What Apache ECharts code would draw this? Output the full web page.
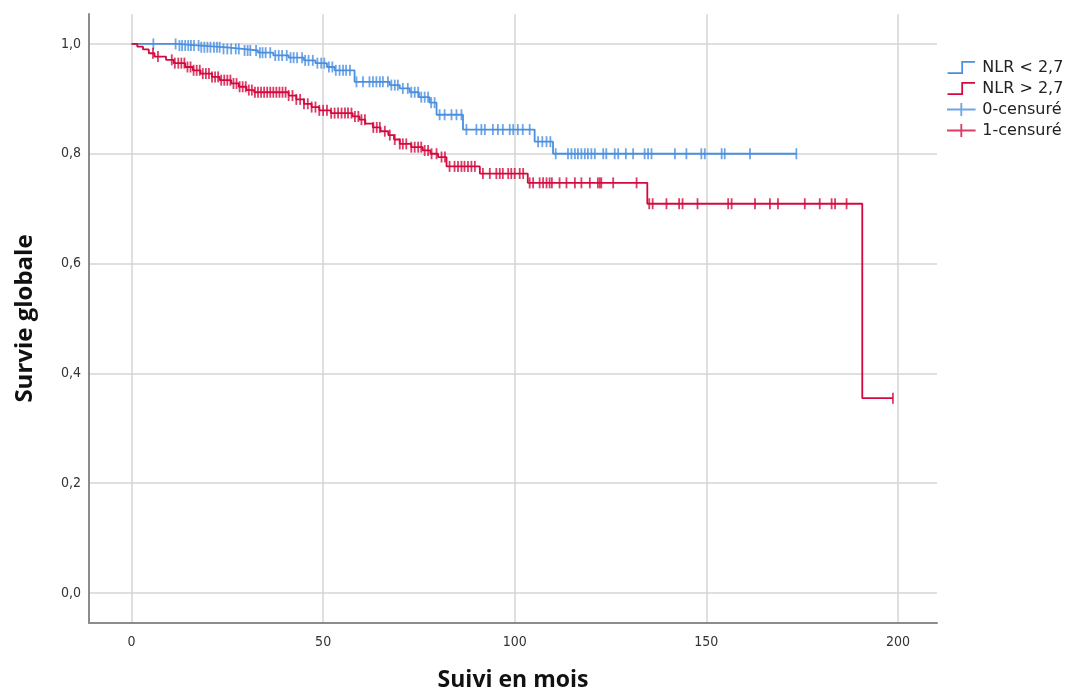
<!DOCTYPE html>
<html>
<head>
<meta charset="utf-8">
<script src="https://cdn.jsdelivr.net/npm/echarts@6/dist/echarts.min.js"></script>
<style>
html,body{margin:0;padding:0;background:#fff;}
#chart{width:1088px;height:697px;}
</style>
</head>
<body>
<div id="chart"></div>
<script>
// ---- Data ----
const xTicks = [0, 50, 100, 150, 200];
const yTicks = [0, 0.2, 0.4, 0.6, 0.8, 1.0];

// NLR < 2,7 : Kaplan-Meier steps [time, survival after step]
const lowSteps = [
  [0, 1], [12, 0.997], [18, 0.994], [24, 0.991], [29, 0.988], [33, 0.984],
  [37, 0.979], [41, 0.975], [45, 0.970], [48, 0.965], [51, 0.958], [53, 0.952],
  [58.2, 0.931], [67.4, 0.925], [70, 0.919], [72.6, 0.912], [75, 0.903],
  [77.8, 0.893], [79.6, 0.871], [86.5, 0.844], [105.2, 0.822], [110, 0.80]
];
const lowEnd = 173.5;
const lowCensored = [
  5.7, 11.5, 12.5, 13.2, 14, 14.8, 15.5, 16.3, 17.5, 18.2, 19, 19.8, 20.6, 21.5,
  22.3, 23, 24, 25, 26, 27.2, 28, 29.5, 30.3, 31, 32.5, 33.5, 34.2, 35, 36.2,
  37.5, 38.4, 39.3, 40.5, 41.5, 42.3, 43.2, 44.5, 45.3, 46.2, 47.3, 48.5, 49.5,
  50.3, 51.5, 52.4, 53.3, 54.3, 55.2, 56, 57,
  58.7, 60.4, 62.1, 63.0, 63.9, 64.8, 65.6, 66.9, 67.8, 68.7, 69.5, 70.8, 72.1,
  73.0, 73.9, 74.8, 75.6, 76.5, 77.4, 78.2, 79.1, 80.4, 81.7, 83.5, 84.8, 86.1,
  87.4, 90.0, 91.3, 92.2, 94.3, 95.6, 96.9, 98.7, 99.6, 100.8, 102.1, 103.9,
  106.1, 107.2, 108.3, 109.3,
  110.7, 113.9, 114.8, 115.7, 116.5, 117.4, 118.3, 119.1, 120.0, 120.9, 123.1,
  123.9, 126.1, 127.0, 129.0, 130.9, 133.9, 134.8, 135.7, 141.8, 144.8, 148.7,
  149.6, 154.0, 154.8, 161.4, 173.5
];

// NLR > 2,7
const highSteps = [
  [0, 1], [1.5, 0.995], [3, 0.99], [4.5, 0.983], [6, 0.977], [9, 0.971],
  [11, 0.965], [14, 0.958], [16, 0.952], [18, 0.946], [21, 0.94], [23, 0.934],
  [26, 0.928], [28, 0.922], [30, 0.916], [32, 0.912], [41, 0.906], [43, 0.899],
  [45, 0.891], [47, 0.885], [49, 0.879], [52, 0.874], [57.7, 0.868],
  [59.5, 0.862], [61, 0.855], [63, 0.848], [65, 0.841], [67, 0.834],
  [68.5, 0.826], [70, 0.818], [73, 0.812], [76, 0.806], [78, 0.800],
  [80, 0.794], [82.2, 0.777], [90.9, 0.764], [103.4, 0.747], [134.6, 0.709],
  [190.7, 0.355]
];
const highEnd = 198.7;
const highCensored = [
  5.6, 6.9, 10.5, 11.3, 12.2, 13, 13.8, 14.6, 15.4, 16.2, 17, 17.8, 18.6, 19.4,
  20.2, 21, 21.8, 22.6, 23.4, 24.2, 25, 25.8, 26.6, 27.4, 28.2, 29, 29.8, 30.6,
  31.4, 32.2, 33, 33.8, 34.6, 35.4, 36.2, 37, 37.8, 38.6, 39.4, 40.2, 41, 42,
  43, 44, 45, 46, 47, 48, 49, 50, 51,
  52.1, 53.0, 53.9, 54.8, 55.7, 56.5, 57.4, 58.3, 59.2, 60.0, 60.9, 63.1, 64.0,
  64.8, 66.1, 67.4, 68.7, 70.0, 70.8, 71.7, 73.0, 73.9, 74.8, 75.6, 76.5, 77.4,
  78.3, 79.6, 80.9, 81.8, 83.0, 84.3, 85.2, 86.1, 86.9, 87.8, 88.7, 89.6,
  91.7, 93.5, 95.2, 96.1, 96.9, 98.3, 99.1, 100, 101.3, 102.2,
  103.9, 104.8, 106.5, 107.4, 108.3, 109.1, 109.7, 111.7, 113.5, 115.7, 117.4,
  119.6, 121.7, 122.2, 122.6, 125.7, 131.8,
  135.1, 136.0, 139.6, 142.9, 143.8, 147.7, 155.7, 156.6, 162.7, 166.6, 168.7,
  175.7, 179.6, 182.7, 183.6, 186.6, 198.7
];

const seriesNames = ['NLR < 2,7', 'NLR > 2,7', '0-censuré', '1-censuré'];
const blue = '#4a8fe0';
const red = '#d20a3e';

// ---- helpers ----
function lineData(steps, end) {
  const d = steps.map(s => [s[0], s[1]]);
  d.push([end, steps[steps.length - 1][1]]);
  return d;
}
function survAt(steps, t) {
  let v = steps[0][1];
  for (const s of steps) { if (s[0] <= t) v = s[1]; else break; }
  return v;
}
function censorData(steps, times) {
  return times.map(t => [t, survAt(steps, t)]);
}

const stepIcon = 'path://M0,9 L11,9 L11,0 L22,0 L22,1.4 L12.4,1.4 L12.4,10.4 L0,10.4 Z';
const plusIcon = 'path://M0,4.3 L10.3,4.3 L10.3,0 L11.7,0 L11.7,4.3 L22,4.3 L22,5.7 L11.7,5.7 L11.7,10 L10.3,10 L10.3,5.7 L0,5.7 Z';

const chart = echarts.init(document.getElementById('chart'), null, {renderer: 'canvas'});
const labelFont = '"Liberation Sans Narrow", "DejaVu Sans Condensed", Arial, sans-serif';
const titleFont = '"Open Sans", "DejaVu Sans", sans-serif';

chart.setOption({
  backgroundColor: '#ffffff',
  animation: false,
  grid: {left: 89, right: 151, top: 14, bottom: 73, containLabel: false},
  legend: {
    orient: 'vertical',
    left: 942,
    top: 53,
    itemGap: 2,
    itemWidth: 34,
    itemHeight: 13,
    data: [
      {name: seriesNames[0], icon: stepIcon},
      {name: seriesNames[1], icon: stepIcon},
      {name: seriesNames[2], icon: plusIcon},
      {name: seriesNames[3], icon: plusIcon}
    ],
    textStyle: {fontFamily: '"DejaVu Sans", sans-serif', fontSize: 16, lineHeight: 19, color: '#222', padding: [0, 0, 0, -1]},
    selectedMode: false
  },
  xAxis: {
    type: 'value',
    min: -11.1,
    max: 210.2,
    name: 'Suivi en mois',
    nameLocation: 'middle',
    nameGap: 46,
    nameTextStyle: {fontFamily: titleFont, fontWeight: 'bold', fontSize: 23, color: '#111'},
    axisLine: {show: true, onZero: false, lineStyle: {color: '#8c8c8c', width: 2}},
    axisTick: {show: false, customValues: xTicks},
    axisLabel: {customValues: xTicks, margin: 12, fontFamily: labelFont, fontSize: 14, color: '#333'},
    splitLine: {show: true, lineStyle: {color: '#d4d4d4', width: 1.5}}
  },
  yAxis: {
    type: 'value',
    min: -0.0545,
    max: 1.0545,
    name: 'Survie globale',
    nameLocation: 'middle',
    nameGap: 52,
    nameRotate: 90,
    nameTextStyle: {fontFamily: titleFont, fontWeight: 'bold', fontSize: 24, color: '#111'},
    axisLine: {show: true, onZero: false, lineStyle: {color: '#8c8c8c', width: 2}},
    axisTick: {show: false, customValues: yTicks},
    axisLabel: {
      customValues: yTicks, margin: 8, fontFamily: labelFont, fontSize: 14, color: '#333',
      formatter: v => v.toFixed(1).replace('.', ',')
    },
    splitLine: {show: true, lineStyle: {color: '#d4d4d4', width: 1.5}}
  },
  series: [
    {
      name: seriesNames[0], type: 'line', step: 'end', showSymbol: false, symbol: 'none',
      data: lineData(lowSteps, lowEnd), color: blue,
      lineStyle: {color: blue, width: 1.8}, z: 3
    },
    {
      name: seriesNames[1], type: 'line', step: 'end', showSymbol: false, symbol: 'none',
      data: lineData(highSteps, highEnd), color: red,
      lineStyle: {color: red, width: 1.8}, z: 3
    },
    {
      name: seriesNames[2], type: 'scatter', symbol: 'rect', symbolSize: [1.8, 11],
      data: censorData(lowSteps, lowCensored), color: blue,
      itemStyle: {color: blue}, z: 4
    },
    {
      name: seriesNames[3], type: 'scatter', symbol: 'rect', symbolSize: [1.8, 11],
      data: censorData(highSteps, highCensored), color: red,
      itemStyle: {color: red}, z: 4
    }
  ]
});
</script>
</body>
</html>
